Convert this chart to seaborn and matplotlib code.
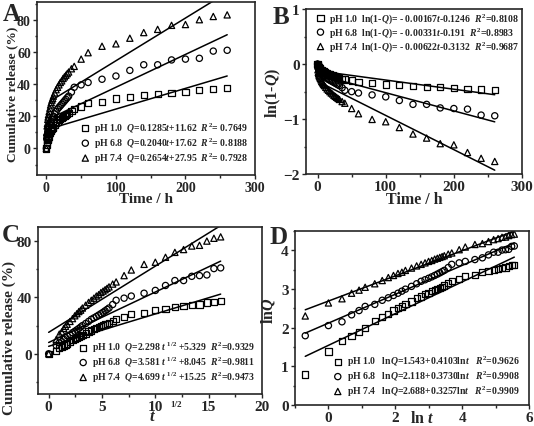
import numpy as np
import pandas as pd
import matplotlib
matplotlib.use("Agg")
import matplotlib.pyplot as plt
import seaborn as sns
from matplotlib.ticker import MultipleLocator

# release data (cumulative %)
time_h = [0, 0.5, 1, 1.5, 2, 2.5, 3, 4, 5, 6, 7, 8, 9, 10, 12, 14, 16, 18, 20, 22,
          24, 26, 28, 30, 32, 36, 40, 50, 60, 80, 100, 120, 140, 160, 180, 200, 220, 240, 260]
release_ph10 = [0, 2.2, 4.0, 5.2, 5.9, 6.6, 7.3, 8.8, 9.8, 10.6, 11.5, 12.2, 12.8, 13.5, 14.5,
                15.8, 16.5, 17.5, 18.2, 19.0, 19.6, 20.2, 20.8, 21.3, 22.0, 23.5, 24.5, 26.0,
                28.0, 29.0, 31.0, 32.0, 33.0, 34.0, 34.5, 35.0, 36.5, 37.0, 37.5]
release_ph68 = [0, 6.0, 7.8, 8.6, 10.3, 11.5, 12.8, 13.5, 15.0, 16.0, 17.0, 18.0, 19.0, 20.0,
                21.5, 23.0, 24.5, 25.5, 26.5, 27.5, 28.5, 29.5, 30.5, 31.5, 32.5, 35.0, 38.0,
                39.5, 41.0, 43.0, 45.0, 48.5, 52.0, 52.0, 55.0, 55.5, 56.0, 60.5, 61.0]
release_ph74 = [0, 10.0, 14.0, 15.6, 18.0, 19.5, 21.0, 23.0, 25.0, 27.0, 28.5, 30.0, 31.0, 32.5,
                34.5, 36.5, 38.0, 39.5, 41.0, 42.0, 43.5, 44.5, 45.5, 46.5, 47.5, 49.5, 51.0,
                55.5, 59.5, 63.5, 65.0, 68.5, 72.0, 74.0, 76.5, 77.0, 80.0, 82.0, 83.0]

ph_labels = ["pH 1.0", "pH 6.8", "pH 7.4"]
markers = ["s", "o", "^"]

# zero order: Q = k t + b
zero_k = [0.1285, 0.2040, 0.2654]
zero_b = [11.62, 17.62, 27.95]
zero_r2 = ["0.7649", "0.8188", "0.7928"]
# first order: ln(1-Q) = -k t + b
first_k = [0.00167, 0.00331, 0.00622]
first_b = [-0.1246, -0.191, -0.3132]
first_r2 = ["0.8108", "0.8983", "0.9687"]
# Higuchi: Q = k t^1/2 + b
hig_k = [2.298, 3.581, 4.699]
hig_b = [5.329, 8.045, 15.25]
hig_r2 = ["0.9329", "0.9811", "0.9473"]
# Korsmeyer-Peppas: lnQ = b + n lnt
kp_b = [1.543, 2.118, 2.688]
kp_n = [0.4103, 0.3730, 0.3257]
kp_r2 = ["0.9626", "0.9908", "0.9909"]

frames = []
for lab, q in zip(ph_labels, [release_ph10, release_ph68, release_ph74]):
    d = pd.DataFrame({"t": time_h, "Q": q})
    d["ph"] = lab
    frames.append(d)
df = pd.concat(frames, ignore_index=True)
df["sqrt_t"] = np.sqrt(df["t"])
df["ln_1mQ"] = np.log(1 - df["Q"] / 100)
pos = df["t"] > 0
df.loc[pos, "ln_t"] = np.log(df.loc[pos, "t"])
df.loc[pos, "ln_Q"] = np.log(df.loc[pos, "Q"])

sns.set_style("ticks")
plt.rcParams["font.family"] = ["Liberation Serif", "DejaVu Serif"]
plt.rcParams.update({
    "font.weight": "bold",
    "axes.labelweight": "bold",
    "mathtext.fontset": "custom",
    "mathtext.rm": "Liberation Serif:bold",
    "mathtext.it": "Liberation Serif:italic:bold",
    "mathtext.bf": "Liberation Serif:bold",
    "axes.linewidth": 1.2,
    "xtick.direction": "out",
    "ytick.direction": "out",
    "xtick.major.size": 3,
    "ytick.major.size": 3,
    "xtick.minor.size": 1.8,
    "ytick.minor.size": 1.8,
    "xtick.minor.visible": True,
    "ytick.minor.visible": True,
})

W, H = 534, 427
fig = plt.figure(figsize=(W / 100, H / 100), dpi=100)


def box(l, t, r, b):
    return [l / W, 1 - b / H, (r - l) / W, (b - t) / H]


axA = fig.add_axes(box(37, 3, 255, 176))
axB = fig.add_axes(box(306, 10, 522, 175))
axC = fig.add_axes(box(38, 228, 262, 395))
axD = fig.add_axes(box(295, 232, 529, 406))


def scatter(ax, x, y, data, labels):
    for (ph, sub), m, lab in zip(data.groupby("ph", sort=False), markers, labels):
        sns.scatterplot(data=sub, x=x, y=y, marker=m, s=20, facecolors="none",
                        edgecolor="black", linewidth=0.9, label=lab, ax=ax)


def legend(ax, loc, anchor):
    ax.legend(loc=loc, bbox_to_anchor=anchor, frameon=False, fontsize=7, handletextpad=0.3,
              labelspacing=0.05, borderaxespad=0, borderpad=0, handlelength=1.2)


# A: zero order
labsA = [f"{p}  $Q$={k:.4f}$t$+{b:.2f}  $R^2$= {r}" for p, k, b, r in zip(ph_labels, zero_k, zero_b, zero_r2)]
scatter(axA, "t", "Q", df, labsA)
tfit = np.linspace(10, 260, 50)
for k, b in zip(zero_k, zero_b):
    axA.plot(tfit, k * tfit + b, color="black", lw=1.1)
axA.set_xlim(-13.5, 300)
axA.set_ylim(-16.5, 91)
axA.xaxis.set_major_locator(MultipleLocator(100))
axA.xaxis.set_minor_locator(MultipleLocator(50))
axA.yaxis.set_major_locator(MultipleLocator(20))
axA.yaxis.set_minor_locator(MultipleLocator(10))
axA.set_xlabel("Time / h", fontsize=11)
axA.xaxis.set_label_coords(0.5, -0.1)
axA.set_ylabel("Cumulative release (%)", fontsize=9.6)
axA.yaxis.set_label_coords(-0.085, 0.47)
legend(axA, "lower right", (0.97, 0.06))
axA.tick_params(labelsize=10)

# B: first order
labsB = [f"{p}  ln(1-$Q$)= - {k:.5f}$t${b}  $R^2$={r}" for p, k, b, r in zip(ph_labels, first_k, first_b, first_r2)]
scatter(axB, "t", "ln_1mQ", df, labsB)
for k, b in zip(first_k, first_b):
    axB.plot(tfit, -k * tfit + b, color="black", lw=1.1)
axB.set_xlim(-17, 300)
axB.set_ylim(-2, 1)
axB.xaxis.set_major_locator(MultipleLocator(100))
axB.xaxis.set_minor_locator(MultipleLocator(50))
axB.yaxis.set_major_locator(MultipleLocator(1))
axB.yaxis.set_minor_locator(MultipleLocator(0.5))
axB.set_xlabel("Time / h", fontsize=11.5)
axB.xaxis.set_label_coords(0.5, -0.105)
axB.set_ylabel("ln(1-$Q$)", fontsize=11.5)
axB.yaxis.set_label_coords(-0.105, 0.5)
legend(axB, "upper left", (0.04, 0.99))
axB.tick_params(labelsize=11)

# C: Higuchi
labsC = [f"{p}  $Q$={k:.3f} $t$ $^{{1/2}}$ +{b}  $R^2$={r}" for p, k, b, r in zip(ph_labels, hig_k, hig_b, hig_r2)]
scatter(axC, "sqrt_t", "Q", df, labsC)
sfit = np.linspace(0, np.sqrt(260), 50)
for k, b in zip(hig_k, hig_b):
    axC.plot(sfit, k * sfit + b, color="black", lw=1.1)
axC.set_xlim(-1, 20)
axC.set_ylim(-28.5, 90)
axC.xaxis.set_major_locator(MultipleLocator(5))
axC.xaxis.set_minor_locator(MultipleLocator(2.5))
axC.yaxis.set_major_locator(MultipleLocator(40))
axC.yaxis.set_minor_locator(MultipleLocator(20))
axC.set_xlabel("$t$", fontsize=12)
axC.xaxis.set_label_coords(0.51, -0.085)
axC.text(0.59, -0.06, "1/2", transform=axC.transAxes, fontsize=6.5, ha="left", va="center")
axC.set_ylabel("Cumulative release (%)", fontsize=11)
axC.yaxis.set_label_coords(-0.1, 0.34)
legend(axC, "lower right", (0.97, 0.06))
axC.tick_params(labelsize=11)

# D: Korsmeyer-Peppas
labsD = [f"{p}   ln$Q$={b:.3f}+{n:.4f}ln$t$   $R^2$={r}" for p, b, n, r in zip(ph_labels, kp_b, kp_n, kp_r2)]
scatter(axD, "ln_t", "ln_Q", df[pos], labsD)
lfit = np.linspace(np.log(0.5), np.log(260), 50)
for b, n in zip(kp_b, kp_n):
    axD.plot(lfit, b + n * lfit, color="black", lw=1.1)
axD.set_xlim(-1, 6)
axD.set_ylim(0, 4.5)
axD.xaxis.set_major_locator(MultipleLocator(2))
axD.xaxis.set_minor_locator(MultipleLocator(1))
axD.yaxis.set_major_locator(MultipleLocator(1))
axD.yaxis.set_minor_locator(MultipleLocator(0.5))
axD.set_xlabel("ln $t$", fontsize=11.5)
axD.xaxis.set_label_coords(0.545, -0.03)
axD.set_ylabel("ln$Q$", fontsize=11.5)
axD.yaxis.set_label_coords(-0.075, 0.55)
legend(axD, "lower right", (0.96, 0.04))
axD.tick_params(labelsize=11)

for ax in (axA, axB, axC, axD):
    for lab in ax.get_xticklabels() + ax.get_yticklabels():
        lab.set_fontweight("bold")
    ax.tick_params(which="both", width=1, pad=1.5)

for letter, x, y in [("A", 3, 3), ("B", 273, 6), ("C", 2, 224), ("D", 270, 226)]:
    fig.text(x / W, 1 - y / H, letter, fontsize=18, fontweight="bold", va="top", ha="left")

fig.savefig("out.png", dpi=100)
